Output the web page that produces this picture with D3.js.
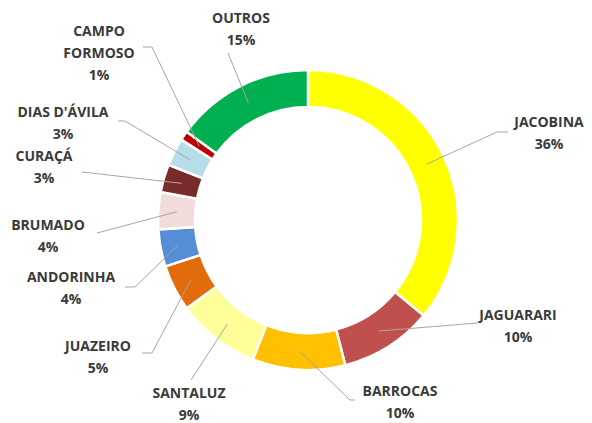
<!DOCTYPE html>
<html>
<head>
<meta charset="utf-8">
<script src="https://cdn.jsdelivr.net/npm/d3@7/dist/d3.min.js"></script>
<style>
  html, body { margin: 0; padding: 0; background: #fff; }
  svg { display: block; }
  .label { font-family: "Open Sans", sans-serif; font-weight: 700; font-size: 14px; fill: #3a3a3a; }
</style>
</head>
<body>
<svg id="chart" width="592" height="423"></svg>
<script>
// data, clockwise from 12 o'clock
const categories = ["JACOBINA", "JAGUARARI", "BARROCAS", "SANTALUZ", "JUAZEIRO", "ANDORINHA",
  "BRUMADO", "CURAÇÁ", "DIAS D'ÁVILA", "CAMPO FORMOSO", "OUTROS"];
const shares = [36, 10, 10, 9, 5, 4, 4, 3, 3, 1, 15];
const colors = ["#ffff00", "#c0504d", "#ffc000", "#ffff99", "#e36c0a", "#558ed5",
  "#f2dcdb", "#772c2a", "#b7dee8", "#c00000", "#00b050"];

// label layout: text lines, center x, first baseline, leader elbow points
const labelLayout = [
  { lines: ["JACOBINA"], x: 549, y: 127, leader: [[508, 132], [497, 132]] },
  { lines: ["JAGUARARI"], x: 518, y: 320, leader: [[478, 323]] },
  { lines: ["BARROCAS"], x: 400, y: 396, leader: [[355, 400], [350, 400]] },
  { lines: ["SANTALUZ"], x: 189, y: 398, leader: [[191, 380]] },
  { lines: ["JUAZEIRO"], x: 98, y: 351, leader: [[142, 353], [152, 353]] },
  { lines: ["ANDORINHA"], x: 71, y: 282, leader: [[125, 287], [135, 287]] },
  { lines: ["BRUMADO"], x: 48, y: 230, leader: [[97, 233]] },
  { lines: ["CURAÇÁ"], x: 44, y: 161, leader: [[82, 172]] },
  { lines: ["DIAS D'ÁVILA"], x: 63, y: 117, leader: [[118, 121], [125, 121]] },
  { lines: ["CAMPO", "FORMOSO"], x: 99, y: 36, leader: [[143, 47], [152, 47]] },
  { lines: ["OUTROS"], x: 241, y: 23, leader: [[228, 53]] }
];

const svg = d3.select("#chart");
const cx = 308, cy = 220;
const outerR = 150, innerR = 113;
const lineH = 22;

const pie = d3.pie().sort(null).value(d => d)(shares);
const arc = d3.arc().innerRadius(innerR).outerRadius(outerR);
const midArc = d3.arc().innerRadius((innerR + outerR) / 2).outerRadius((innerR + outerR) / 2);

const g = svg.append("g").attr("transform", `translate(${cx},${cy})`);

g.selectAll("path.slice")
  .data(pie)
  .join("path")
  .attr("class", "slice")
  .attr("d", arc)
  .attr("fill", (d, i) => colors[i])
  .attr("stroke", "#fff")
  .attr("stroke-width", 2.5);

// leader lines from slice middle to label
const line = d3.line();
svg.append("g")
  .selectAll("path")
  .data(pie)
  .join("path")
  .attr("fill", "none")
  .attr("stroke", "#a6a6a6")
  .attr("stroke-width", 1)
  .attr("d", (d, i) => {
    const c = midArc.centroid(d);
    const pts = labelLayout[i].leader.slice().reverse();
    return line([[c[0] + cx, c[1] + cy], ...pts].reverse());
  });

const labels = svg.append("g")
  .selectAll("text")
  .data(pie)
  .join("text")
  .attr("class", "label")
  .attr("text-anchor", "middle");

labels.each(function (d, i) {
  const L = labelLayout[i];
  const t = d3.select(this);
  const rows = L.lines.concat([d3.format(".0f")(d.data) + "%"]);
  rows.forEach((r, k) => {
    t.append("tspan")
      .attr("x", L.x)
      .attr("y", L.y + k * lineH)
      .text(r);
  });
});
</script>
</body>
</html>
